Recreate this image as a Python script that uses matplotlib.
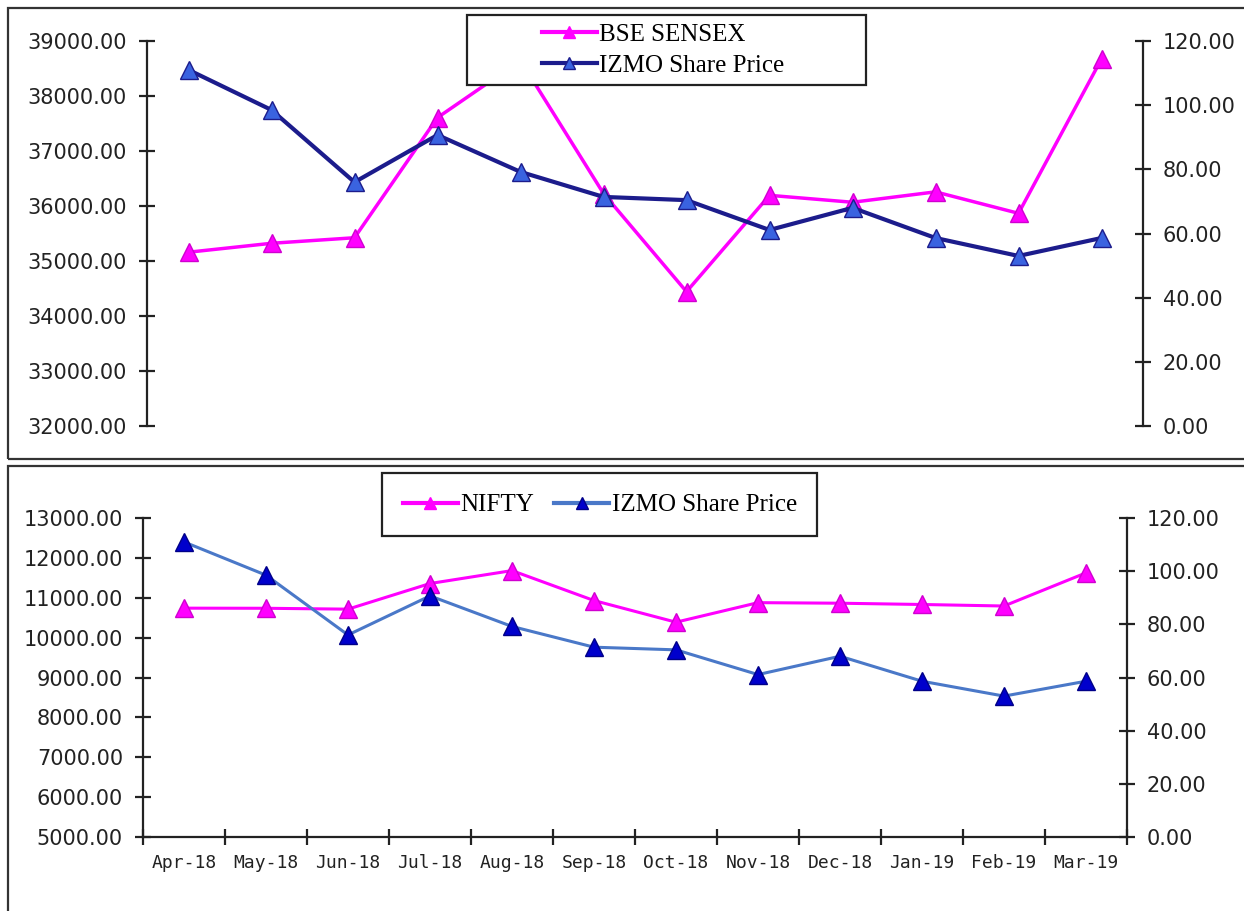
import matplotlib
matplotlib.use('Agg')
import matplotlib.pyplot as plt
from matplotlib.patches import Rectangle
from matplotlib.ticker import FormatStrFormatter
from matplotlib.lines import Line2D
import numpy as np

# data
months = ['Apr-18', 'May-18', 'Jun-18', 'Jul-18', 'Aug-18', 'Sep-18',
          'Oct-18', 'Nov-18', 'Dec-18', 'Jan-19', 'Feb-19', 'Mar-19']
sensex = [35160, 35322, 35423, 37607, 38645, 36227,
          34442, 36194, 36068, 36257, 35867, 38673]
nifty = [10739, 10736, 10714, 11357, 11681, 10930,
         10387, 10877, 10863, 10831, 10793, 11624]
izmo = [111.0, 98.5, 76.0, 90.7, 79.2, 71.4,
        70.4, 61.1, 68.0, 58.6, 53.0, 58.6]

W, H = 1244, 911
MAGENTA = '#ff00ff'
NAVY = '#1c1c8c'
TICK_COLOR = '#222222'


def px(x, y):
    """像素坐标 -> figure 坐标"""
    return x / W, 1 - y / H


def axes_rect(x0, y0, x1, y1):
    return [x0 / W, 1 - y1 / H, (x1 - x0) / W, (y1 - y0) / H]


def style_y(ax, side):
    ax.yaxis.set_major_formatter(FormatStrFormatter('%.2f'))
    ax.tick_params(axis='y', which='major', direction='inout', length=12,
                   width=1.6, pad=8.4, labelsize=15, colors=TICK_COLOR)
    for s in ['top', 'bottom']:
        ax.spines[s].set_visible(False)
    ax.spines[side].set_linewidth(1.6)
    ax.spines[side].set_color('#222222')


fig = plt.figure(figsize=(W / 100, H / 100), dpi=100)

# 外框
for (x0, y0, x1, y1) in [(8, 8, 1250, 459), (8, 466, 1250, 930)]:
    fig.add_artist(Rectangle(px(x0, y1), (x1 - x0) / W, (y1 - y0) / H,
                             transform=fig.transFigure, fill=False,
                             edgecolor='#333333', linewidth=1.6, zorder=0.5))

# ---------- 上图: BSE SENSEX ----------
ax1 = fig.add_axes(axes_rect(147, 41, 1143, 426))
ax1.plot(months, sensex, color=MAGENTA, lw=2.5, marker='^', ms=13,
         mfc=MAGENTA, mec='#d000d0', zorder=3)
ax1.set_xlim(-0.5, 11.5)
ax1.set_ylim(32000, 39000)
ax1.set_yticks(np.arange(32000, 39001, 1000))
ax1.set_xticks([])
ax1.spines['right'].set_visible(False)
style_y(ax1, 'left')

ax1r = ax1.twinx()
ax1r.plot(range(len(months)), izmo, color=NAVY, lw=3, marker='^', ms=13,
          mfc='#3a63e0', mec=NAVY, zorder=3)
ax1r.set_ylim(0, 120)
ax1r.set_yticks(np.arange(0, 121, 20))
ax1r.spines['left'].set_visible(False)
style_y(ax1r, 'right')

# 图例框
fig.add_artist(Rectangle(px(467, 85), 399 / W, 70 / H, transform=fig.transFigure,
                         facecolor='white', edgecolor='#222222', linewidth=1.6, zorder=4))
h1 = [Line2D([], [], color=MAGENTA, lw=3, marker='^', ms=9, mfc=MAGENTA, mec=MAGENTA),
      Line2D([], [], color=NAVY, lw=3, marker='^', ms=9, mfc='#3a63e0', mec=NAVY)]
fig.legend(h1, ['BSE SENSEX', 'IZMO Share Price'], loc='center',
           bbox_to_anchor=px(663, 50), frameon=False,
           prop={'family': 'Liberation Serif', 'size': 18},
           handlelength=2.2, handletextpad=0.1, labelspacing=0.35,
           borderpad=0, borderaxespad=0)

# ---------- 下图: NIFTY ----------
ax2 = fig.add_axes(axes_rect(143, 518, 1127, 837))
ax2.plot(months, nifty, color=MAGENTA, lw=2.2, marker='^', ms=13,
         mfc=MAGENTA, mec='#d000d0', zorder=3)
ax2.set_xlim(-0.5, 11.5)
ax2.set_ylim(5000, 13000)
ax2.set_yticks(np.arange(5000, 13001, 1000))
ax2.spines['right'].set_visible(False)
style_y(ax2, 'left')
ax2.spines['bottom'].set_visible(True)
ax2.spines['bottom'].set_linewidth(1.6)
ax2.spines['bottom'].set_color('#222222')
ax2.set_xticks(np.arange(len(months) + 1) - 0.5)
ax2.set_xticklabels([])
ax2.set_xticks(np.arange(len(months)), minor=True)
ax2.set_xticklabels(months, minor=True, family='DejaVu Sans Mono', fontsize=13)
ax2.tick_params(axis='x', which='major', direction='inout', length=11,
                width=1.6, colors=TICK_COLOR)
ax2.tick_params(axis='x', which='minor', length=0, pad=12, colors=TICK_COLOR)

ax2r = ax2.twinx()
ax2r.plot(range(len(months)), izmo, color='#4a78c8', lw=2.2, marker='^', ms=13,
          mfc='#0000cc', mec='#000088', zorder=3)
ax2r.set_ylim(0, 120)
ax2r.set_yticks(np.arange(0, 121, 20))
ax2r.spines['left'].set_visible(False)
style_y(ax2r, 'right')

fig.add_artist(Rectangle(px(382, 536), 435 / W, 63 / H, transform=fig.transFigure,
                         facecolor='white', edgecolor='#222222', linewidth=1.6, zorder=4))
h2 = [Line2D([], [], color=MAGENTA, lw=3, marker='^', ms=9, mfc=MAGENTA, mec=MAGENTA),
      Line2D([], [], color='#4a78c8', lw=3, marker='^', ms=9, mfc='#0000cc', mec='#000088')]
fig.legend(h2, ['NIFTY', 'IZMO Share Price'], loc='center', ncol=2,
           bbox_to_anchor=px(600, 505), frameon=False,
           prop={'family': 'Liberation Serif', 'size': 18},
           handlelength=2.2, handletextpad=0.1, columnspacing=0.8,
           borderpad=0, borderaxespad=0)

fig.savefig('out.png', dpi=100)
